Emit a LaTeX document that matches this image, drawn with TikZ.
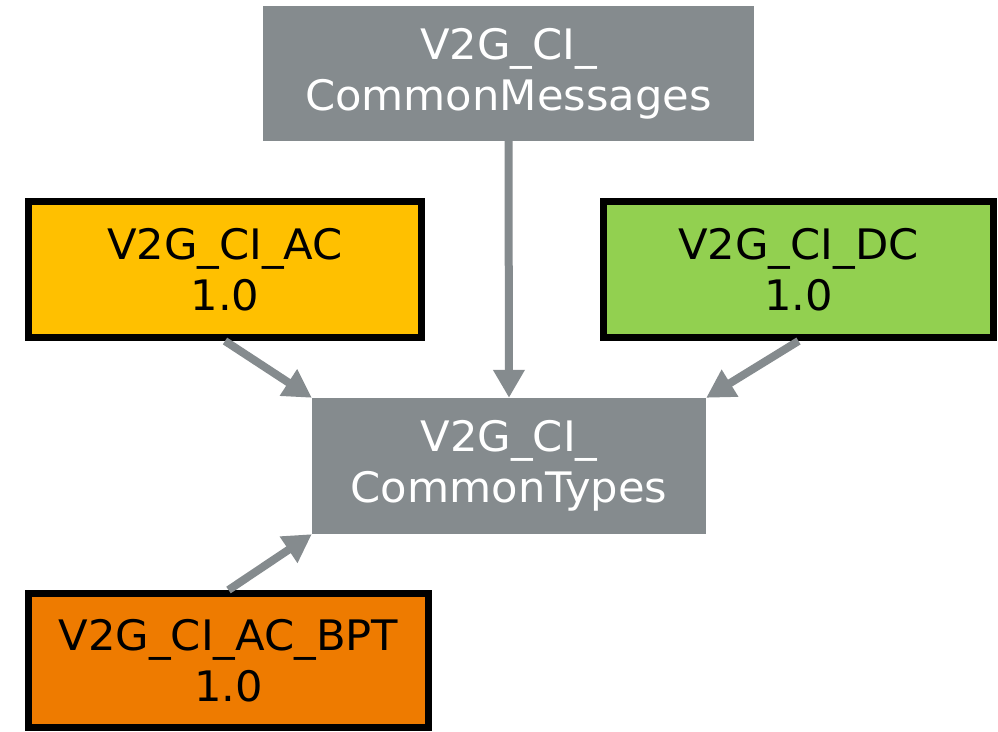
\documentclass[tikz,border=0pt]{standalone}
\usepackage{fontspec}
\setmainfont{DejaVu Sans}[FakeStretch=1.03]
\usetikzlibrary{arrows.meta}
\definecolor{pkggray}{RGB}{133,139,142}
\definecolor{acyellow}{RGB}{255,192,0}
\definecolor{dcgreen}{RGB}{146,208,80}
\definecolor{bptorange}{RGB}{238,123,0}
\tikzset{
  pkg/.style={rectangle,align=center,inner sep=0pt,
    font=\fontsize{42}{51}\selectfont},
  common/.style={pkg,fill=pkggray,text=white},
  version/.style={pkg,draw=black,line width=7pt,text=black},
  dep/.style={draw=pkggray,line width=8pt,
    -{Triangle[length=28pt,width=30pt]}}
}
\begin{document}
\begin{tikzpicture}[x=1pt,y=1pt]
  \useasboundingbox (0,0) rectangle (998,731);
  % packages
  \node[common,minimum width=491pt,minimum height=135pt] (msgs) at (508.5,657.5) {V2G\_CI\_\\CommonMessages};
  \node[common,minimum width=394pt,minimum height=136pt] (types) at (509,265) {V2G\_CI\_\\CommonTypes};
  \node[version,fill=acyellow,minimum width=393pt,minimum height=136pt] (ac) at (225,461.5) {V2G\_CI\_AC\\1.0};
  \node[version,fill=dcgreen,minimum width=390pt,minimum height=136pt] (dc) at (798.5,461.5) {V2G\_CI\_DC\\1.0};
  \node[version,fill=bptorange,minimum width=400pt,minimum height=134pt] (bpt) at (228.5,70.5) {V2G\_CI\_AC\_BPT\\1.0};
  % dependencies
  \draw[dep] (msgs.south) -- (types.north);
  \draw[dep] (ac.south) -- (types.north west);
  \draw[dep] (dc.south) -- (types.north east);
  \draw[dep] (bpt.north) -- (types.south west);
\end{tikzpicture}
\end{document}
